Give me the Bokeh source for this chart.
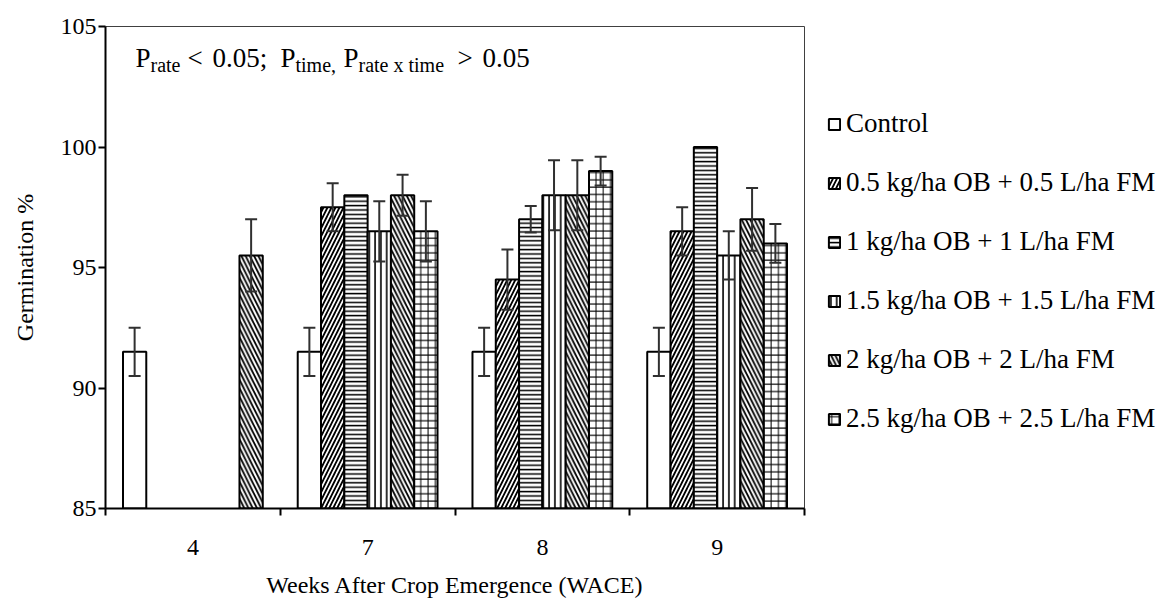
import numpy as np
from bokeh.plotting import figure
from bokeh.models import (ColumnDataSource, Range1d, FixedTicker, Whisker, TeeHead,
                          Legend, LegendItem, Label)
from bokeh.embed import file_html
from bokeh.resources import INLINE

FONT = "Liberation Serif"

weeks = ["4", "7", "8", "9"]
series = ["Control",
          "0.5 kg/ha OB + 0.5 L/ha FM",
          "1 kg/ha OB + 1 L/ha FM",
          "1.5 kg/ha OB + 1.5 L/ha FM",
          "2 kg/ha OB + 2 L/ha FM",
          "2.5 kg/ha OB + 2.5 L/ha FM"]

control = [91.5, 91.5, 91.5, 91.5]
control_err = [1.0, 1.0, 1.0, 1.0]
ob05 = [None, 97.5, 94.5, 96.5]
ob05_err = [None, 1.0, 1.25, 1.0]
ob1 = [None, 98.0, 97.0, 100.0]
ob1_err = [None, 0.0, 0.55, 0.0]
ob15 = [None, 96.5, 98.0, 95.5]
ob15_err = [None, 1.25, 1.45, 1.0]
ob2 = [95.5, 98.0, 98.0, 97.0]
ob2_err = [1.5, 0.85, 1.45, 1.3]
ob25 = [None, 96.5, 99.0, 96.0]
ob25_err = [None, 1.25, 0.6, 0.8]

values = [control, ob05, ob1, ob15, ob2, ob25]
errors = [control_err, ob05_err, ob1_err, ob15_err, ob2_err, ob25_err]

# slot of each series inside a week group (in week 4 the lone treatment bar sits in the last slot)
slots = [[i] * len(weeks) for i in range(len(series))]
slots[4][0] = 5

hatches = [
    dict(hatch_pattern=None),
    dict(hatch_pattern="/", hatch_scale=8, hatch_weight=1.8),
    dict(hatch_pattern="-", hatch_scale=4.4, hatch_weight=1.5),
    dict(hatch_pattern="|", hatch_scale=5.8, hatch_weight=1.6),
    dict(hatch_pattern="\\", hatch_scale=8.5, hatch_weight=1.8),
    dict(hatch_pattern="+", hatch_scale=7.3, hatch_weight=1),
]

n_slots = len(series)
bar_w = 1.0 / (n_slots + 1.5)

p = figure(frame_width=699, frame_height=482,
           x_range=Range1d(0, len(weeks)), y_range=Range1d(85, 105),
           output_backend="svg", toolbar_location=None,
           min_border_left=105, min_border_right=358, min_border_top=26, min_border_bottom=100)
p.background_fill_color = "white"
p.border_fill_color = "white"
p.outline_line_color = "#404040"
p.outline_line_width = 1
p.xgrid.visible = False
p.ygrid.visible = False

items = []
for si, name in enumerate(series):
    xs, tops, ups = [], [], []
    for wi, w in enumerate(weeks):
        v = values[si][wi]
        if v is None:
            continue
        x = wi + 0.5 + (slots[si][wi] - (n_slots - 1) / 2) * bar_w
        xs.append(x)
        tops.append(v)
        e = errors[si][wi]
        if e:
            ups.append((x, v + e, v - e))
    src = ColumnDataSource(dict(x=xs, top=tops))
    r = p.vbar(x="x", top="top", bottom=85, width=bar_w, source=src,
               fill_color="white", line_color="black", line_width=2,
               hatch_color="black", **hatches[si])
    items.append(LegendItem(label=name, renderers=[r]))
    if ups:
        esrc = ColumnDataSource(dict(x=[u[0] for u in ups], upper=[u[1] for u in ups],
                                     lower=[u[2] for u in ups]))
        wk = Whisker(base="x", upper="upper", lower="lower", source=esrc, dimension="height",
                     line_color="#303030", line_width=2, level="overlay",
                     upper_head=TeeHead(size=12, line_color="#303030", line_width=2),
                     lower_head=TeeHead(size=12, line_color="#303030", line_width=2))
        p.add_layout(wk)

# axes
p.yaxis.ticker = FixedTicker(ticks=[85, 90, 95, 100, 105])
p.yaxis.minor_tick_line_color = None
p.yaxis.major_tick_in = 0
p.yaxis.major_tick_out = 7
p.yaxis.major_tick_line_width = 2
p.yaxis.axis_line_width = 2
p.yaxis.axis_line_color = "black"
p.yaxis.major_label_text_font = FONT
p.yaxis.major_label_text_font_size = "24px"
p.yaxis.major_label_text_color = "black"
p.yaxis.major_label_standoff = 2
p.yaxis.axis_label = "Germination %"
p.yaxis.axis_label_text_font = FONT
p.yaxis.axis_label_text_font_size = "24px"
p.yaxis.axis_label_text_font_style = "normal"
p.yaxis.axis_label_text_color = "black"
p.yaxis.axis_label_standoff = 20

centers = [i + 0.5 for i in range(len(weeks))]
p.xaxis.ticker = FixedTicker(ticks=centers, minor_ticks=list(range(len(weeks) + 1)))
p.xaxis.major_label_overrides = {c: w for c, w in zip(centers, weeks)}
p.xaxis.major_tick_line_color = None
p.xaxis.major_tick_in = 0
p.xaxis.major_tick_out = 0
p.xaxis.minor_tick_in = 0
p.xaxis.minor_tick_out = 7
p.xaxis.minor_tick_line_width = 2
p.xaxis.minor_tick_line_color = "black"
p.xaxis.axis_line_width = 2
p.xaxis.axis_line_color = "black"
p.xaxis.major_label_text_font = FONT
p.xaxis.major_label_text_font_size = "24px"
p.xaxis.major_label_text_color = "black"
p.xaxis.major_label_standoff = 24
p.xaxis.axis_label = "Weeks After Crop Emergence (WACE)"
p.xaxis.axis_label_text_font = FONT
p.xaxis.axis_label_text_font_size = "24px"
p.xaxis.axis_label_text_font_style = "normal"
p.xaxis.axis_label_text_color = "black"
p.xaxis.axis_label_standoff = 14

legend = Legend(items=items, location=(23, 74), orientation="vertical",
                glyph_width=14, glyph_height=14, label_height=30, spacing=28,
                label_standoff=5, padding=0, margin=0,
                label_text_font=FONT, label_text_font_size="27px", label_text_color="black",
                border_line_alpha=0, background_fill_alpha=0)
p.add_layout(legend, "right")

# significance note: (text, x from frame left, is subscript)
note_parts = [("P", 30, False), ("rate", 45, True), ("<", 82, False), ("0.05;", 107, False),
              ("P", 175, False), ("time,", 190, True), ("P", 238, False),
              ("rate x time", 253, True), (">", 352, False), ("0.05", 377, False)]
for txt, xo, sub in note_parts:
    p.add_layout(Label(x=xo, y=444 if sub else 451, x_units="screen", y_units="screen",
                       text=txt, text_font=FONT,
                       text_font_size="20px" if sub else "27px",
                       text_baseline="alphabetic", text_color="black"))

open("out.html", "w").write(file_html(p, INLINE))
